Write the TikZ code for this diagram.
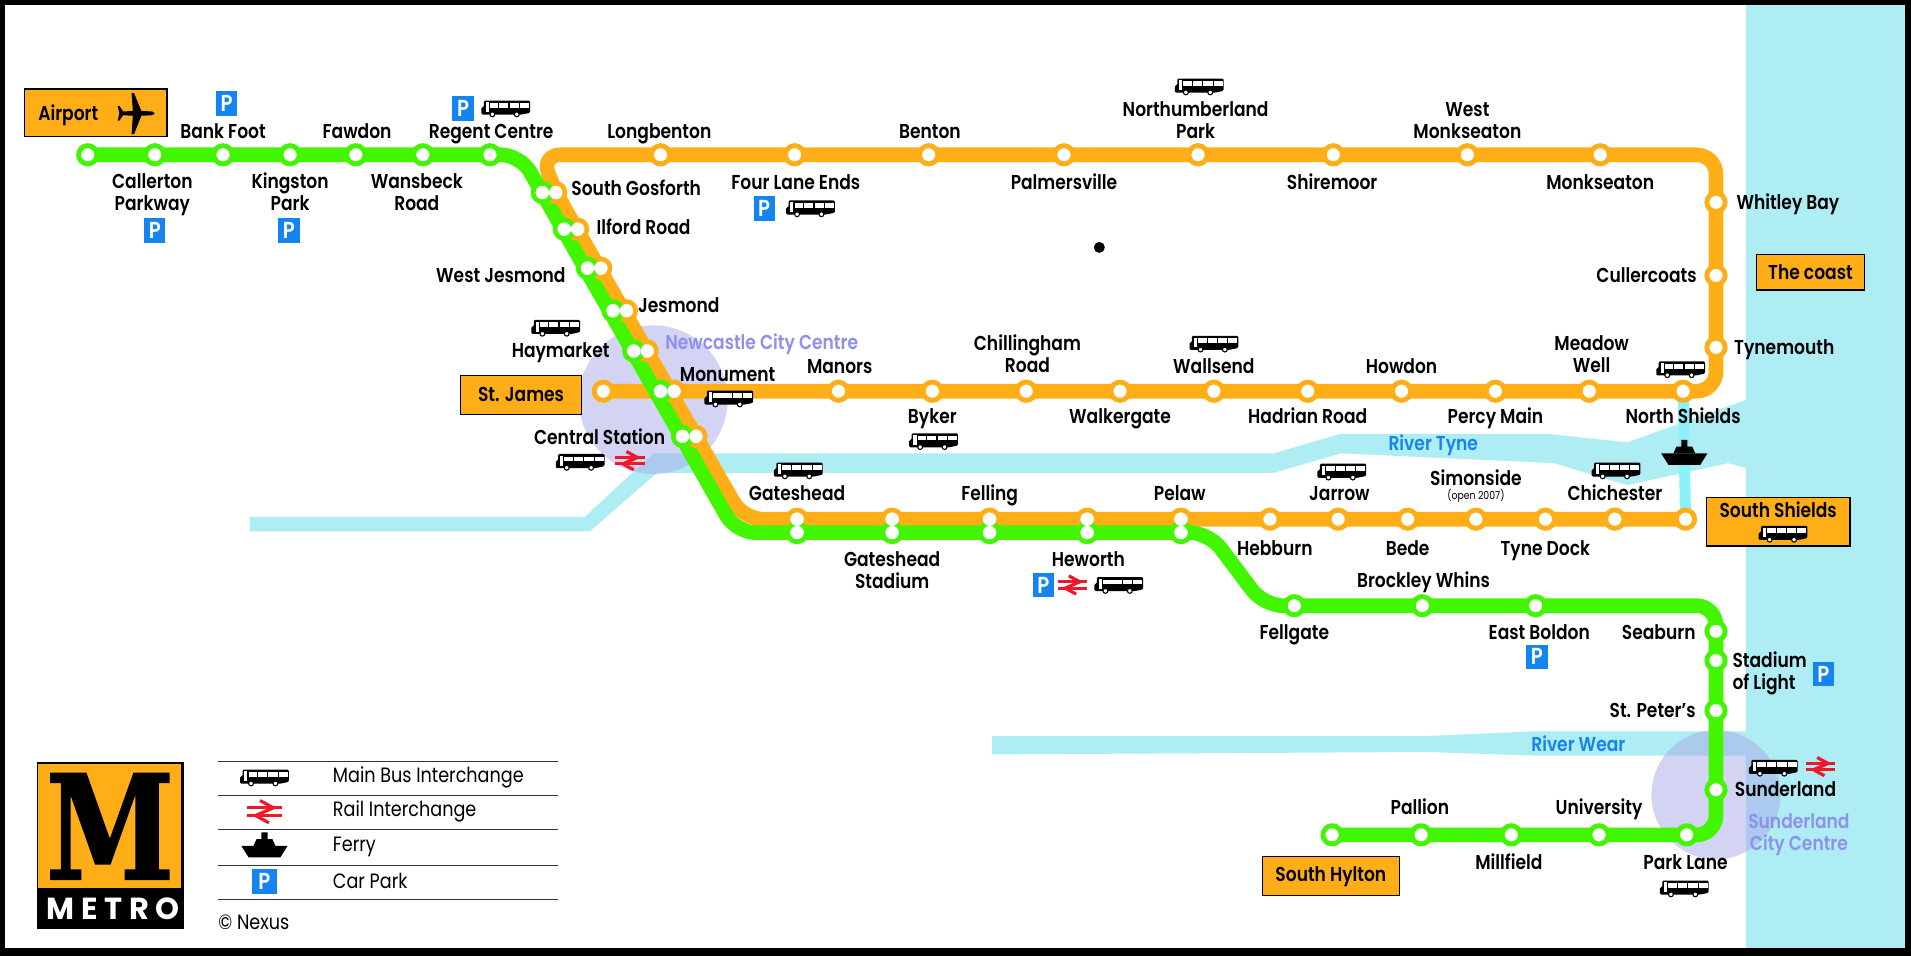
\documentclass[tikz,border=0pt]{standalone}
\usepackage{fontspec}
\setmainfont{Poppins}[FakeStretch=0.85,BoldFont={Poppins SemiBold}]
\newfontfamily\metrofont{Poppins}[LetterSpace=22]
\newfontfamily\slabfont{DejaVu Serif}[FakeBold=1.5]
\usetikzlibrary{backgrounds}
\definecolor{lineorange}{HTML}{FFAE17}
\definecolor{linegreen}{HTML}{42F500}
\definecolor{seablue}{HTML}{AFEDF5}
\definecolor{ferryblue}{HTML}{8CF2FA}
\definecolor{parkblue}{HTML}{1484F0}
\definecolor{centrelilac}{HTML}{A9A9E8}
\definecolor{railred}{HTML}{F01828}
\tikzset{
	lbl/.style={inner sep=0pt,align=center,yshift=-2pt,font=\fontsize{16.5}{18.5}\selectfont\bfseries,execute at begin node=\strut,execute at end node=\strut},
	legendlbl/.style={inner sep=0pt,anchor=west,font=\fontsize{17}{20}\selectfont},
	citylbl/.style={lbl,text=centrelilac!85!blue},
	riverlbl/.style={lbl,text=parkblue},
	ostop/.style={circle,draw=lineorange,fill=white,line width=4pt,minimum size=15pt,inner sep=0pt},
	gstop/.style={circle,draw=linegreen,fill=white,line width=4pt,minimum size=15pt,inner sep=0pt},
	wdot/.style={circle,fill=white,minimum size=11pt,inner sep=0pt},
	destbox/.style={draw=black,line width=1pt,fill=lineorange,inner sep=0pt,font=\fontsize{16.5}{18}\selectfont\bfseries},
	parkbox/.style={fill=parkblue,text=white,minimum width=17.5pt,minimum height=20pt,inner sep=0pt,font=\fontsize{19}{19}\selectfont\bfseries},
	metroline/.style={line width=12pt,rounded corners=16pt,line join=round},
	busicon/.pic={
		\fill[black,rounded corners=1pt] (-20,5) -- (-20,-1) -- (-18,-1) -- (-18,-6.5) -- (20,-6.5) -- (20,3.5) -- (13,5) -- cycle;
		\fill[white] (-16.5,-5) rectangle (-14,3);
		\foreach \wa/\wb in {-13/-6,-5.2/2.2,3.3/11,11.8/19.2}{\fill[white] (\wa,-4.4) rectangle (\wb,-.6);}
		\foreach \wx in {-11,9}{\fill[white,draw=black,line width=.9pt] (\wx,4.8) circle (2);}
	},
	railicon/.pic={
		\draw[railred,line width=2.6pt] (-12,-2.6) -- (12,-2.6) (-12,2.6) -- (12,2.6);
		\draw[railred,line width=2.6pt,line join=miter] (-3,-7.5) -- (6,-2.6) -- (-6,2.6) -- (3,7.5);
	},
	ferryicon/.pic={
		\fill[black] (-19,0) -- (19,0) -- (13,9.5) -- (-13,9.5) -- cycle;
		\fill[black] (-9,0) -- (-6.5,-5.5) -- (-2.5,-5.5) -- (-2.5,-11) -- (2.5,-11) -- (2.5,-5.5) -- (6.5,-5.5) -- (9,0) -- cycle;
	},
	planeicon/.pic={
		\fill[black] (15,0) -- (13,-1.5) -- (4,-2) -- (-2,-16.5) -- (-4,-16.5) -- (-3,-2) -- (-11,-1.5) -- (-14,-6) -- (-15.5,-6) -- (-14,0) -- (-15.5,6) -- (-14,6) -- (-11,1.5) -- (-3,2) -- (-4,17) -- (-2,17) -- (4,2) -- (13,1.5) -- cycle;
	}
}
\begin{document}
\begin{tikzpicture}[x=1pt,y=-1pt]
	\useasboundingbox (0,0) rectangle (1568,784);
	% stations on the three runs of the green line
	\foreach \n/\x/\y in {CallertonWest/72/127,Callerton/127/127,BankFoot/183/127,Kingston/238/127,Fawdon/292/127,Wansbeck/347/127,Regent/402/127,
		Fellgate/1062/497,Brockley/1167/497,Boldon/1260/497,Seaburn/1408/518,Stadium/1408/542,Peters/1408/583,Sunderland/1408/648,
		ParkLane/1384/685,University/1312/685,Millfield/1240/685,Pallion/1166/685,Hylton/1093/685}{
		\node[gstop] (g\n) at (\x,\y) {};
	}
	% stations on the orange line
	\foreach \n/\x/\y in {StJames/495/321,Manors/688/321,Byker/765/321,Chillingham/842/321,Walkergate/919/321,Wallsend/996/321,Hadrian/1073/321,Howdon/1150/321,Percy/1227/321,Meadow/1304/321,NorthShields/1381/321,
		Tynemouth/1408/285,Cullercoats/1408/226,Whitley/1408/166,
		Monkseaton/1313/127,WestMonk/1204/127,Shiremoor/1094/127,Northumberland/983/127,Palmersville/873/127,Benton/762/127,FourLane/652/127,Longbenton/542/127,
		Hebburn/1042/426,Jarrow/1098/426,Bede/1155/426,Simonside/1211/426,TyneDock/1268/426,Chichester/1325/426,SouthShields/1383/426}{
		\node[ostop] (o\n) at (\x,\y) {};
	}
	% shared stations, side by side
	\foreach \n/\x/\y in {Gosforth/445/158,Ilford/463/188,WestJes/482/220,Jesmond/503/255,Haymarket/520/288,Monument/542/321,Central/560/358}{
		\node[ostop] (o\n) at (\x+11,\y) {};
		\node[gstop] (g\n) at (\x,\y) {};
		\node[wdot] (wo\n) at (o\n) {};
		\node[wdot] (wg\n) at (g\n) {};
	}
	% shared stations, one over the other
	\foreach \n/\x in {Gateshead/654,Stadiumg/732,Felling/812,Heworth/892,Pelaw/969}{
		\node[ostop] (o\n) at (\x,426) {};
		\node[gstop] (g\n) at (\x,437) {};
		\node[wdot] (wo\n) at (o\n) {};
		\node[wdot] (wg\n) at (g\n) {};
	}
	\coordinate (cA) at (1408,321);
	\coordinate (cB) at (1408,127);
	\coordinate (cC) at (444,127);
	\coordinate (cD) at (610,426);
	\coordinate (cE) at (427,127);
	\coordinate (cF) at (604,437);
	\coordinate (cG) at (992,437);
	\coordinate (cH) at (1037,497);
	\coordinate (cI) at (1408,497);
	\coordinate (cJ) at (1408,685);
	\begin{scope}[on background layer]
		\fill[black] (0,0) rectangle (1568,784);
		\fill[white] (4,4) rectangle (1563,778);
		\fill[seablue] (1433,4) rectangle (1563,778);
		% River Tyne
		\fill[seablue] (1433,328) -- (1335,363) -- (1270,356) -- (1100,356) -- (1045,372) -- (536,372) -- (480,424) -- (205,424) -- (205,436) -- (484,436) -- (539,388) -- (1045,388) -- (1100,372) -- (1275,380) -- (1335,398) -- (1418,380) -- (1433,384) -- cycle;
		% River Wear
		\fill[seablue] (814,604) -- (1170,604) -- (1260,600) -- (1433,600) -- (1433,620) -- (1260,620) -- (1170,617) -- (814,619) -- cycle;
		\fill[centrelilac,opacity=.5] (536,328) circle (61);
		\fill[centrelilac,opacity=.5] (1408,652) circle (53);
		\draw[ferryblue,line width=9pt] (oNorthShields.center) -- (oSouthShields.center);
		\draw[lineorange,metroline] (oStJames.center) -- (cA) -- (cB) -- (cC) -- (oGosforth.center) -- (cD) -- (oSouthShields.center);
		\draw[linegreen,metroline] (gCallertonWest.center) -- (cE) -- (cF) -- (cG) -- (cH) -- (cI) -- (cJ) -- (gHylton.center);
	\end{scope}
	% station names
	\foreach \n/\x/\y/\lab in {BankFoot/183/108/Bank Foot,Fawdon/293/108/Fawdon,Regent/403/108/Regent Centre,
		Callerton/125/158/{Callerton\strut\\Parkway},Kingston/238/158/{Kingston\strut\\Park},Wansbeck/342/158/{Wansbeck\strut\\Road},
		Longbenton/541/108/Longbenton,Benton/763/108/Benton,Northumberland/981/99/{Northumberland\strut\\Park},WestMonk/1204/99/{West\strut\\Monkseaton},
		Gosforth/522/155/South Gosforth,Ilford/528/187/Ilford Road,WestJes/411/226/West Jesmond,Jesmond/557/251/Jesmond,
		FourLane/653/150/Four Lane Ends,Palmersville/873/150/Palmersville,Shiremoor/1093/150/Shiremoor,Monkseaton/1313/150/Monkseaton,
		Whitley/1467/166/Whitley Bay,Cullercoats/1351/226/Cullercoats,Tynemouth/1464/285/Tynemouth,
		Haymarket/460/288/Haymarket,Monument/597/307/Monument,Manors/689/301/Manors,Chillingham/843/291/{Chillingham\strut\\Road},Wallsend/996/301/Wallsend,Howdon/1150/301/Howdon,Meadow/1306/291/{Meadow\strut\\Well},
		Byker/765/342/Byker,Walkergate/919/342/Walkergate,Hadrian/1073/342/Hadrian Road,Percy/1227/342/Percy Main,NorthShields/1381/342/North Shields,Central/492/359/Central Station,
		Gateshead/654/405/Gateshead,Felling/812/405/Felling,Pelaw/968/405/Pelaw,Jarrow/1099/405/Jarrow,Simonside/1211/393/Simonside,Chichester/1325/405/Chichester,
		Stadiumg/732/468/{Gateshead\strut\\Stadium},Heworth/893/459/Heworth,Hebburn/1046/450/Hebburn,Bede/1155/450/Bede,TyneDock/1268/450/Tyne Dock,
		Fellgate/1062/519/Fellgate,Brockley/1168/476/Brockley Whins,Boldon/1263/519/East Boldon,Seaburn/1361/519/Seaburn,Peters/1356/583/St. Peter's,
		Sunderland/1465/648/Sunderland,Pallion/1165/663/Pallion,University/1312/663/University,Millfield/1238/708/Millfield,ParkLane/1383/708/Park Lane}{
		\node[lbl] (t\n) at (\x,\y) {\lab};
	}
	\node[lbl,align=left] (tStadium) at (1452,551) {Stadium\strut\\of Light};
	\node[inner sep=0pt,font=\fontsize{9}{10}\selectfont] (tOpen) at (1211,407) {(open 2007)};
	\node[citylbl] (tNewcastle) at (625,281) {Newcastle City Centre};
	\node[citylbl] (tSunderlandCentre) at (1476,683) {Sunderland\strut\\City Centre};
	\node[riverlbl] (tTyne) at (1176,364) {River Tyne};
	\node[riverlbl] (tWear) at (1295,611) {River Wear};
	% destination boxes
	\node[destbox,minimum width=117pt,minimum height=39pt] (boxAirport) at (78.5,92.5) {};
	\node[lbl] (tAirport) at (56,93) {Airport};
	\pic (planeAirport) at (112,93) {planeicon};
	\node[destbox,minimum width=99pt,minimum height=32pt] (boxJames) at (427.5,324) {St. James};
	\node[destbox,minimum width=89pt,minimum height=29pt] (boxCoast) at (1485.5,223.5) {The coast};
	\node[destbox,minimum width=118pt,minimum height=40pt] (boxShields) at (1459,428) {};
	\node[lbl] (tShields) at (1459,419) {South Shields};
	\node[destbox,minimum width=112pt,minimum height=32pt] (boxHylton) at (1092,719) {South Hylton};
	% car parks
	\foreach \n/\x/\y in {BankFoot/186/85,Regent/380/89,Callerton/127/189,Kingston/237/189,FourLane/627/171,Heworth/856/480,Boldon/1261/539,Stadium/1496/553}{
		\node[parkbox] (p\n) at (\x,\y) {P};
	}
	\node[parkbox,minimum width=20pt,minimum height=20.5pt] (pLegend) at (217,723) {P};
	% buses
	\foreach \n/\x/\y in {Regent/415/89,Northumberland/984/71,FourLane/665/171,Haymarket/456/269,Monument/598/327,Wallsend/996/282,NorthShields/1379/303,Byker/766/362,Central/476/379,
		Gateshead/655/386,Jarrow/1101/387,Chichester/1326/386,Shields/1463/438,Heworth/918/480,Sunderland/1455/630,ParkLane/1382/729,Legend/217/638}{
		\pic (bus\n) at (\x,\y) {busicon};
	}
	\foreach \n/\x/\y in {Central/517/378,Heworth/880/480,Sunderland/1494/629}{
		\pic (rail\n) at (\x,\y) {railicon};
	}
	\pic[scale=1.22] (railLegend) at (217,666) {railicon};
	\pic (ferryTyne) at (1382,372) {ferryicon};
	\pic (ferryLegend) at (217,694) {ferryicon};
	\node[circle,fill=black,minimum size=9pt,inner sep=0pt] (blackdot) at (902,203) {};
	% key
	\foreach \i/\y in {1/625,2/653,3/681,4/710,5/738}{
		\coordinate (ruleA\i) at (179,\y);
		\coordinate (ruleB\i) at (458,\y);
		\draw[black!80,line width=.8pt] (ruleA\i) -- (ruleB\i);
	}
	\node[legendlbl] (keyBus) at (273,638) {Main Bus Interchange};
	\node[legendlbl] (keyRail) at (273,666) {Rail Interchange};
	\node[legendlbl] (keyFerry) at (273,695) {Ferry};
	\node[legendlbl] (keyPark) at (273,723) {Car Park};
	\node[legendlbl] (keyNexus) at (179,757) {© Nexus};
	% logo
	\node[fill=black,minimum width=121pt,minimum height=137pt,inner sep=0pt] (logo) at (90.5,693.5) {};
	\node[fill=lineorange,minimum width=117pt,minimum height=101.5pt,inner sep=0pt] (logoPanel) at (90,677.8) {};
	\node[inner sep=0pt] (logoM) at (90.4,678) {\resizebox{105pt}{86.5pt}{\slabfont\bfseries M}};
	\node[inner sep=0pt,text=white,font=\fontsize{25}{25}\metrofont\bfseries] (logoText) at (93,745.5) {METRO};
\end{tikzpicture}
\end{document}
